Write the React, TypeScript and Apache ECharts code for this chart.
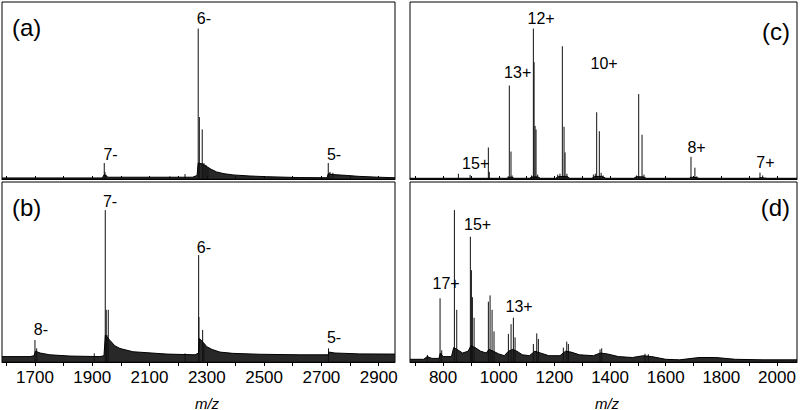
import React, { useEffect, useRef } from "react";
import * as echarts from "echarts";

type Pt = [number, number];

// ---------- axes ----------
const leftRange: Pt = [1585, 2957];
const rightRange: Pt = [681, 2072];
const leftMajor = [1700, 1900, 2100, 2300, 2500, 2700, 2900];
const leftTicks = [1600, 1700, 1800, 1900, 2000, 2100, 2200, 2300, 2400, 2500, 2600, 2700, 2800, 2900];
const rightMajor = [800, 1000, 1200, 1400, 1600, 1800, 2000];
const rightTicks = [700, 800, 900, 1000, 1100, 1200, 1300, 1400, 1500, 1600, 1700, 1800, 1900, 2000];
const xTitle = "m/z";
const panelNames = ["(a)", "(b)", "(c)", "(d)"];

// ---------- panel (a) ----------
const peaksA: Pt[] = [
  [1942, 9], [1944.5, 4], [1948, 2.5], [2171, 1.5], [2224, 2.8],
  [2270, 85], [2274, 35], [2284, 28], [2290, 9], [2297, 8], [2304, 6],
  [2724, 9], [2730, 4], [2740, 3.5],
];
const baseA: Pt[] = [
  [1585, 0.6], [1935, 0.6], [1942, 2.5], [1955, 1], [2250, 1], [2266, 2],
  [2270, 9], [2285, 8.5], [2300, 7], [2315, 5.5], [2334, 4], [2360, 3],
  [2392, 2.3], [2450, 1.7], [2509, 1.3], [2625, 0.8], [2720, 0.7],
  [2724, 3], [2740, 2.5], [2790, 2], [2830, 1.5], [2900, 1], [2957, 0.7],
];
const labelsA = ["7-", "6-", "5-"];
const labelPosA: Pt[] = [[1964, 14], [2290, 90.4], [2744, 14]];

// ---------- panel (b) ----------
const peaksB: Pt[] = [
  [1700, 12.2], [1706, 7.6], [1907, 4.8],
  [1945.5, 84.4], [1949, 29], [1951.5, 15], [1956, 29],
  [2224, 4.8],
  [2271.5, 59.4], [2272.5, 25], [2285.5, 17.8], [2290, 10],
  [2725, 7.6],
];
const baseB: Pt[] = [
  [1585, 3], [1683, 3], [1697, 3.5], [1702, 6], [1718, 5], [1752, 4],
  [1822, 3.3], [1927, 3], [1941, 3.5], [1946, 15], [1962, 12], [1979, 9],
  [1997, 7.5], [2042, 5.7], [2161, 4.4], [2259, 4], [2271, 5], [2274, 13],
  [2287, 11], [2300, 8.5], [2318, 7], [2346, 5.5], [2391, 4.8], [2485, 4.3],
  [2625, 4], [2723, 4], [2727, 5.5], [2747, 5], [2834, 4.5], [2957, 4.4],
];
const labelsB = ["8-", "7-", "6-", "5-"];
const labelPosB: Pt[] = [[1721, 17.8], [1962, 89], [2290, 63.6], [2744, 13.6]];

// ---------- panel (c) ----------
const peaksC: Pt[] = [
  [855, 3], [897, 2.3], [962.6, 17.8], [966, 4],
  [1034, 1.5], [1038, 52.8], [1044, 15.5], [1048, 2],
  [1118, 2], [1124.4, 85], [1127, 66], [1130.5, 30], [1134, 28], [1140, 2.5],
  [1212, 2.5], [1220, 3], [1228.6, 75], [1234.7, 29.5], [1238.3, 15], [1245, 3],
  [1340, 2.5], [1347, 3], [1352, 37.7], [1361.5, 27], [1368, 3.5], [1375, 2],
  [1495, 2], [1503, 48], [1515, 25], [1522, 2.5],
  [1691, 12.5], [1705, 6.4], [1712, 1.5],
  [1939, 3.6], [1948.6, 2],
];
const baseC: Pt[] = [
  [681, 0.4], [1030, 0.4], [1036, 1], [1048, 1], [1055, 0.4],
  [1110, 0.4], [1120, 1.2], [1140, 1.2], [1150, 0.4],
  [1205, 0.4], [1215, 1.4], [1245, 1.5], [1255, 0.4],
  [1335, 0.4], [1345, 1.4], [1370, 1.5], [1385, 0.4],
  [1485, 0.4], [1495, 1.3], [1520, 1.2], [1530, 0.4],
  [1685, 0.4], [1690, 1], [1710, 0.8], [1720, 0.4],
  [1935, 0.4], [1940, 0.8], [1955, 0.6], [1965, 0.4], [2072, 0.4],
];
const labelsC = ["15+", "13+", "12+", "10+", "8+", "7+"];
const labelPosC: Pt[] = [[917, 8.5], [1068, 60], [1152, 90.4], [1378.6, 65], [1711, 17.8], [1958.5, 9.3]];

// ---------- panel (d) ----------
const peaksD: Pt[] = [
  [743.6, 3.9], [789, 35.4], [795, 6.5],
  [840.6, 84.4], [849, 29],
  [898, 69.6], [901.7, 51], [905.3, 36], [911.4, 24.6],
  [962.7, 33.5], [968.8, 37], [976, 29], [983, 17],
  [1034.6, 15.6], [1044.3, 21], [1052.6, 24.6], [1058.7, 13.7],
  [1124.4, 10], [1136.6, 15.9], [1142.4, 12.8],
  [1232.2, 8], [1244.4, 11.3], [1250.2, 10],
  [1364, 7], [1370, 7.6],
  [1525.6, 4.6], [1537.6, 4.3],
];
const baseD: Pt[] = [
  [681, 1.5], [730, 1.5], [743, 3], [760, 2], [785, 2], [790, 5], [800, 3],
  [830, 3], [838, 8], [850, 7], [870, 5], [890, 6], [900, 9], [915, 8],
  [935, 6], [955, 5], [965, 7], [980, 6], [1000, 4.5], [1020, 3.5],
  [1035, 6], [1050, 7], [1065, 6], [1085, 4], [1110, 3.5], [1130, 6],
  [1150, 5], [1180, 3.5], [1220, 3.5], [1240, 6], [1260, 5.5], [1290, 4],
  [1340, 3.5], [1365, 5], [1390, 4.5], [1430, 3], [1480, 2.5], [1520, 3.5],
  [1550, 3], [1600, 1.5], [1650, 1.2], [1720, 2.5], [1780, 2.5], [1850, 1.5],
  [1950, 1.2], [2072, 1.2],
];
const labelsD = ["17+", "15+", "13+"];
const labelPosD: Pt[] = [[810.7, 43.6], [924, 76.4], [1073, 30.8]];

const FONT = "'Liberation Sans', Arial, sans-serif";

export default function App() {
  const ref = useRef<HTMLDivElement>(null);
  useEffect(() => {
    if (!ref.current) return;
    const chart = echarts.init(ref.current, undefined, { renderer: "svg" });

    const grids = [
      { left: 2, top: 2, width: 393, height: 177 },
      { left: 2, top: 182, width: 393, height: 180 },
      { left: 410, top: 2, width: 387, height: 177 },
      { left: 410, top: 182, width: 387, height: 180 },
    ];
    const panels = [
      { peaks: peaksA, base: baseA, labels: labelsA, pos: labelPosA, range: leftRange, major: leftMajor, ticks: leftTicks, bottom: false },
      { peaks: peaksB, base: baseB, labels: labelsB, pos: labelPosB, range: leftRange, major: leftMajor, ticks: leftTicks, bottom: true },
      { peaks: peaksC, base: baseC, labels: labelsC, pos: labelPosC, range: rightRange, major: rightMajor, ticks: rightTicks, bottom: false },
      { peaks: peaksD, base: baseD, labels: labelsD, pos: labelPosD, range: rightRange, major: rightMajor, ticks: rightTicks, bottom: true },
    ];

    const series: any[] = [];
    panels.forEach((p, i) => {
      series.push({
        type: "line",
        xAxisIndex: i,
        yAxisIndex: i,
        data: p.base,
        symbol: "none",
        silent: true,
        lineStyle: { color: "#000", width: 1 },
        areaStyle: { color: "#111", opacity: 0.9 },
      });
      series.push({
        type: "custom",
        xAxisIndex: i,
        yAxisIndex: i,
        data: p.peaks,
        silent: true,
        clip: true,
        encode: { x: 0, y: 1 },
        renderItem: (_params: any, api: any) => {
          const x = api.value(0);
          const y = api.value(1);
          const p0 = api.coord([x, 0]);
          const p1 = api.coord([x, y]);
          return {
            type: "line",
            shape: { x1: p0[0], y1: p0[1], x2: p1[0], y2: p1[1] },
            style: { stroke: "#111", lineWidth: 1 },
          };
        },
      });
      const names = p.labels;
      series.push({
        type: "custom",
        xAxisIndex: i,
        yAxisIndex: i,
        silent: true,
        data: p.pos.map((q, k) => ({ name: names[k], value: q })),
        encode: { x: 0, y: 1 },
        renderItem: (params: any, api: any) => {
          const c = api.coord([api.value(0), api.value(1)]);
          return {
            type: "text",
            x: c[0],
            y: c[1],
            style: {
              text: names[params.dataIndex],
              font: `16px ${FONT}`,
              fill: "#000",
              align: "center",
              verticalAlign: "middle",
            },
          };
        },
      });
    });

    chart.setOption({
      animation: false,
      backgroundColor: "#fff",
      grid: grids.map((g) => ({ ...g, show: true, borderColor: "#000", borderWidth: 1, backgroundColor: "transparent" })),
      xAxis: panels.map((p, i) => ({
        type: "value",
        gridIndex: i,
        min: p.range[0],
        max: p.range[1],
        splitLine: { show: false },
        axisLine: { show: true, lineStyle: { color: "#000", width: 1 } },
        axisTick: {
          show: true,
          inside: !p.bottom,
          length: p.bottom ? 4 : 3,
          customValues: p.ticks,
          lineStyle: { color: "#000" },
        },
        axisLabel: {
          show: p.bottom,
          customValues: p.major,
          formatter: (v: number) => String(v),
          fontSize: 17,
          fontFamily: FONT,
          color: "#000",
          margin: 7,
        },
      })),
      yAxis: panels.map((_p, i) => ({
        type: "value",
        gridIndex: i,
        min: 0,
        max: 100,
        show: false,
        splitLine: { show: false },
      })),
      graphic: [
        { type: "text", x: 12, y: 27, style: { text: panelNames[0], font: `24px ${FONT}`, fill: "#000", verticalAlign: "middle", align: "left" } },
        { type: "text", x: 12, y: 207, style: { text: panelNames[1], font: `24px ${FONT}`, fill: "#000", verticalAlign: "middle", align: "left" } },
        { type: "text", x: 790, y: 31, style: { text: panelNames[2], font: `24px ${FONT}`, fill: "#000", verticalAlign: "middle", align: "right" } },
        { type: "text", x: 790, y: 207, style: { text: panelNames[3], font: `24px ${FONT}`, fill: "#000", verticalAlign: "middle", align: "right" } },
        { type: "text", x: 207, y: 403, style: { text: xTitle, font: `italic 15px ${FONT}`, fill: "#000", verticalAlign: "middle", align: "center" } },
        { type: "text", x: 607, y: 403, style: { text: xTitle, font: `italic 15px ${FONT}`, fill: "#000", verticalAlign: "middle", align: "center" } },
      ],
      series,
    });

    return () => chart.dispose();
  }, []);

  return (
    <div
      ref={ref}
      style={{ position: "fixed", left: 0, top: 0, width: 800, height: 410, background: "#fff" }}
    />
  );
}
